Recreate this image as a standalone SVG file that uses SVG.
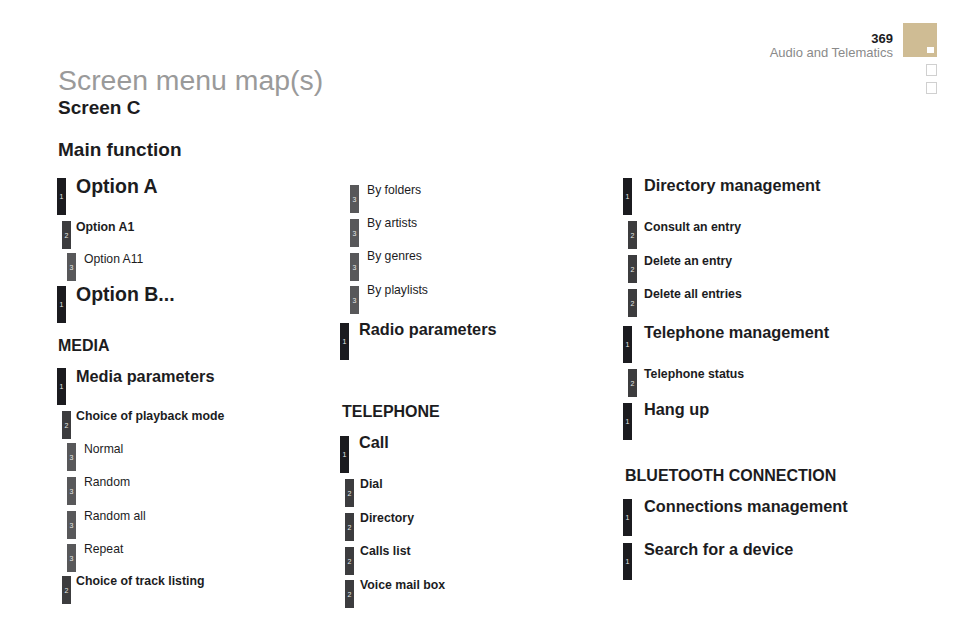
<svg xmlns="http://www.w3.org/2000/svg" width="960" height="640" viewBox="0 0 960 640">
<style>
text{font-family:"Liberation Sans",Arial,sans-serif;fill:#1c1c1e}
.b1{fill:#1b1b1f}.b2{fill:#3c3c3e}.b3{fill:#58585a}
.n{font-size:7px;fill:#e8e8e8;text-anchor:middle}
.big{font-size:19.5px;font-weight:bold}
.t1{font-size:16.3px;font-weight:bold}
.t2{font-size:12.3px;font-weight:bold}
.t3{font-size:12.2px}
.h{font-size:16px;font-weight:bold}
</style>
<rect width="960" height="640" fill="#ffffff"/>
<g id="header">
<text x="58" y="90" style="font-size:28.4px;fill:#9a9a9a">Screen menu map(s)</text>
<text x="58" y="114" style="font-size:19px;font-weight:bold">Screen C</text>
<text x="58" y="156" style="font-size:19px;font-weight:bold">Main function</text>
<text x="893" y="43" text-anchor="end" style="font-size:13px;font-weight:bold">369</text>
<text x="893" y="57" text-anchor="end" style="font-size:13px;fill:#8a8a8a">Audio and Telematics</text>
<rect x="903" y="23" width="34" height="34" fill="#cfbc94"/>
<rect x="927" y="47" width="7" height="6" fill="#ffffff"/>
<rect x="926.5" y="64.5" width="10" height="11" fill="none" stroke="#d0d0d0"/>
<rect x="926.5" y="82.5" width="10" height="11" fill="none" stroke="#d0d0d0"/>
</g>
<g id="connectors"/>
<g id="optionA"><rect class="b1" x="57" y="178" width="9" height="37"/><text class="n" x="61.5" y="199">1</text><text class="big" x="76" y="193">Option A</text></g>
<g id="optionA1"><rect class="b2" x="62" y="221" width="9" height="28"/><text class="n" x="66.5" y="237.5">2</text><text class="t2" x="76" y="231">Option A1</text></g>
<g id="optionA11"><rect class="b3" x="67" y="253" width="9" height="28"/><text class="n" x="71.5" y="269.5">3</text><text class="t3" x="84" y="263">Option A11</text></g>
<g id="optionB"><rect class="b1" x="57" y="286" width="9" height="37"/><text class="n" x="61.5" y="307">1</text><text class="big" x="76" y="301">Option B...</text></g>
<g id="media"><text class="h" x="58" y="351">MEDIA</text></g>
<g id="mediaParams"><rect class="b1" x="57" y="368" width="9" height="37"/><text class="n" x="61.5" y="389">1</text><text class="t1" x="76" y="382">Media parameters</text></g>
<g id="playbackMode"><rect class="b2" x="62" y="411" width="9" height="28"/><text class="n" x="66.5" y="427.5">2</text><text class="t2" x="76" y="420">Choice of playback mode</text></g>
<g id="normal"><rect class="b3" x="67" y="443" width="9" height="28"/><text class="n" x="71.5" y="459.5">3</text><text class="t3" x="84" y="453">Normal</text></g>
<g id="random"><rect class="b3" x="67" y="477" width="9" height="28"/><text class="n" x="71.5" y="493.5">3</text><text class="t3" x="84" y="486">Random</text></g>
<g id="randomAll"><rect class="b3" x="67" y="511" width="9" height="28"/><text class="n" x="71.5" y="527.5">3</text><text class="t3" x="84" y="520">Random all</text></g>
<g id="repeat"><rect class="b3" x="67" y="544" width="9" height="28"/><text class="n" x="71.5" y="560.5">3</text><text class="t3" x="84" y="553">Repeat</text></g>
<g id="trackListing"><rect class="b2" x="62" y="576" width="9" height="28"/><text class="n" x="66.5" y="592.5">2</text><text class="t2" x="76" y="585">Choice of track listing</text></g>
<g id="byFolders"><rect class="b3" x="350" y="185" width="9" height="28"/><text class="n" x="354.5" y="201.5">3</text><text class="t3" x="367" y="194">By folders</text></g>
<g id="byArtists"><rect class="b3" x="350" y="219" width="9" height="28"/><text class="n" x="354.5" y="235.5">3</text><text class="t3" x="367" y="227">By artists</text></g>
<g id="byGenres"><rect class="b3" x="350" y="253" width="9" height="28"/><text class="n" x="354.5" y="269.5">3</text><text class="t3" x="367" y="260">By genres</text></g>
<g id="byPlaylists"><rect class="b3" x="350" y="286" width="9" height="28"/><text class="n" x="354.5" y="302.5">3</text><text class="t3" x="367" y="294">By playlists</text></g>
<g id="radioParams"><rect class="b1" x="340" y="323" width="9" height="37"/><text class="n" x="344.5" y="344">1</text><text class="t1" x="359" y="335">Radio parameters</text></g>
<g id="telephone"><text class="h" x="342" y="417">TELEPHONE</text></g>
<g id="call"><rect class="b1" x="340" y="436" width="9" height="37"/><text class="n" x="344.5" y="457">1</text><text class="t1" x="359" y="448">Call</text></g>
<g id="dial"><rect class="b2" x="345" y="479" width="9" height="28"/><text class="n" x="349.5" y="495.5">2</text><text class="t2" x="360" y="488">Dial</text></g>
<g id="directory"><rect class="b2" x="345" y="513" width="9" height="28"/><text class="n" x="349.5" y="529.5">2</text><text class="t2" x="360" y="522">Directory</text></g>
<g id="callsList"><rect class="b2" x="345" y="547" width="9" height="28"/><text class="n" x="349.5" y="563.5">2</text><text class="t2" x="360" y="555">Calls list</text></g>
<g id="voiceMail"><rect class="b2" x="345" y="580" width="9" height="28"/><text class="n" x="349.5" y="596.5">2</text><text class="t2" x="360" y="589">Voice mail box</text></g>
<g id="directoryMgmt"><rect class="b1" x="623" y="178" width="9" height="37"/><text class="n" x="627.5" y="199">1</text><text class="t1" x="644" y="191">Directory management</text></g>
<g id="consultEntry"><rect class="b2" x="628" y="221" width="9" height="28"/><text class="n" x="632.5" y="237.5">2</text><text class="t2" x="644" y="231">Consult an entry</text></g>
<g id="deleteEntry"><rect class="b2" x="628" y="255" width="9" height="28"/><text class="n" x="632.5" y="271.5">2</text><text class="t2" x="644" y="265">Delete an entry</text></g>
<g id="deleteAll"><rect class="b2" x="628" y="289" width="9" height="28"/><text class="n" x="632.5" y="305.5">2</text><text class="t2" x="644" y="298">Delete all entries</text></g>
<g id="telephoneMgmt"><rect class="b1" x="623" y="326" width="9" height="37"/><text class="n" x="627.5" y="347">1</text><text class="t1" x="644" y="338">Telephone management</text></g>
<g id="telephoneStatus"><rect class="b2" x="628" y="369" width="9" height="28"/><text class="n" x="632.5" y="385.5">2</text><text class="t2" x="644" y="378">Telephone status</text></g>
<g id="hangUp"><rect class="b1" x="623" y="403" width="9" height="37"/><text class="n" x="627.5" y="424">1</text><text class="t1" x="644" y="415">Hang up</text></g>
<g id="bluetooth"><text class="h" x="625" y="481">BLUETOOTH CONNECTION</text></g>
<g id="connectionsMgmt"><rect class="b1" x="623" y="499" width="9" height="37"/><text class="n" x="627.5" y="520">1</text><text class="t1" x="644" y="512">Connections management</text></g>
<g id="searchDevice"><rect class="b1" x="623" y="543" width="9" height="37"/><text class="n" x="627.5" y="564">1</text><text class="t1" x="644" y="555">Search for a device</text></g>
</svg>
